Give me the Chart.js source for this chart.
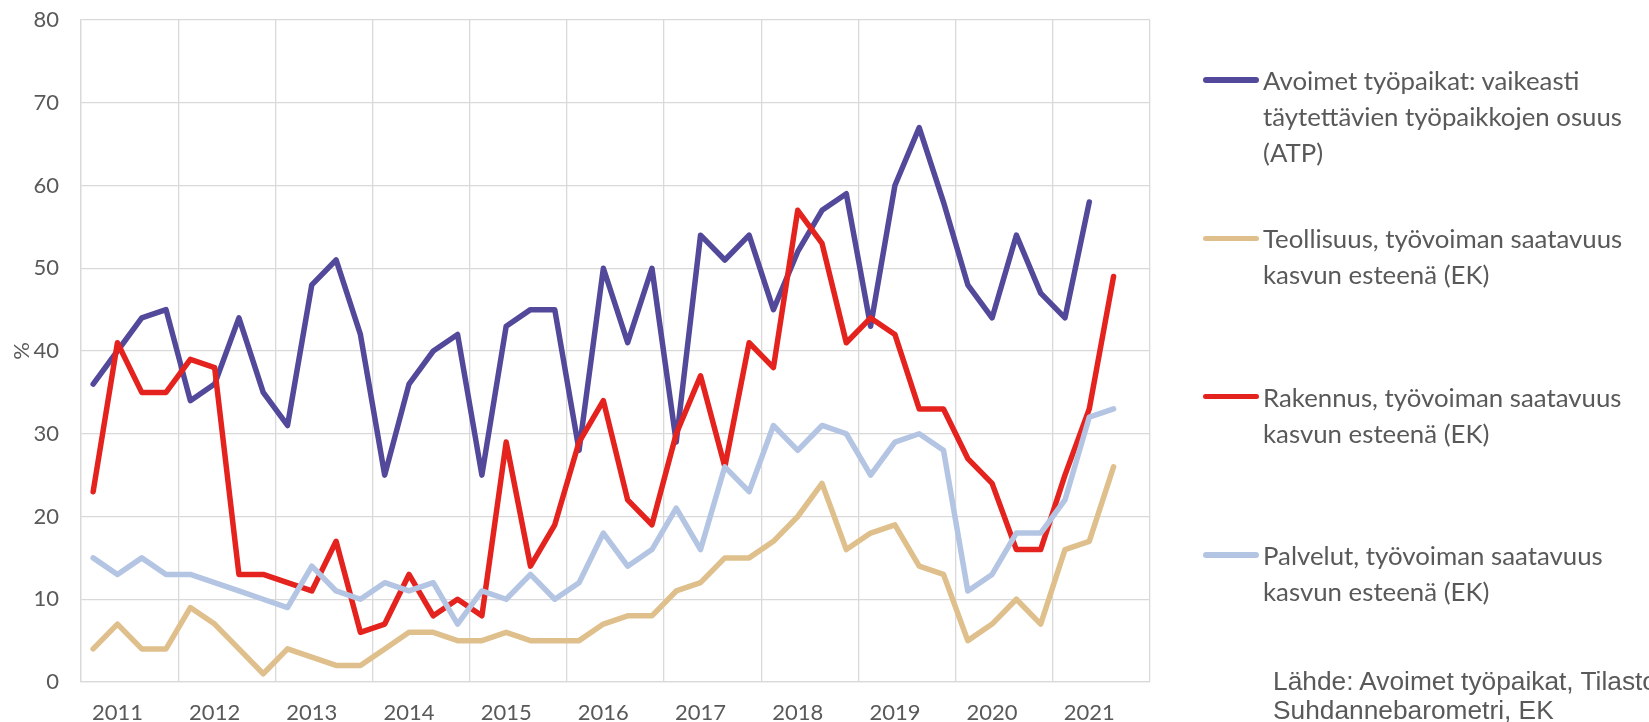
<!DOCTYPE html>
<html lang="fi">
<head>
<meta charset="utf-8">
<title>Työvoiman saatavuus</title>
<script src="https://cdn.jsdelivr.net/npm/chart.js@4.4.1/dist/chart.umd.min.js"></script>
<style>
    html, body { margin: 0; padding: 0; background: #fff; overflow: hidden; }
    #wrap { position: relative; width: 1649px; height: 722px; overflow: hidden; }
    #chart { position: absolute; left: 0; top: 0; }
    #legend {
        position: absolute; left: 1203px; top: 62px; margin: 0; padding: 0; list-style: none;
        font-family: Lato, sans-serif; font-size: 25.8px; line-height: 36px; color: #595959;
    }
    #legend li { position: relative; height: 158.3px; padding-left: 60px; white-space: pre; }
    #legend .swatch { position: absolute; left: 0; top: 15.25px; width: 56px; height: 5.5px; border-radius: 3px; }
    #source {
        position: absolute; left: 1273px; top: 667px; white-space: pre;
        font-family: 'Liberation Sans', Arial, sans-serif; font-size: 26.3px; line-height: 29px; color: #595959;
    }
</style>
</head>
<body>
<div id="wrap">
    <canvas id="chart" width="1649" height="722"></canvas>
    <ul id="legend"></ul>
    <div id="source">Lähde: Avoimet työpaikat, Tilastokeskus;
Suhdannebarometri, EK</div>
</div>
<script>
// quarters, 2010 Q4 ... 2021 Q3 (year label shown at Q1)
const categories = [
    '2010 Q4', '2011 Q1', '2011 Q2', '2011 Q3',
    '2011 Q4', '2012 Q1', '2012 Q2', '2012 Q3',
    '2012 Q4', '2013 Q1', '2013 Q2', '2013 Q3',
    '2013 Q4', '2014 Q1', '2014 Q2', '2014 Q3',
    '2014 Q4', '2015 Q1', '2015 Q2', '2015 Q3',
    '2015 Q4', '2016 Q1', '2016 Q2', '2016 Q3',
    '2016 Q4', '2017 Q1', '2017 Q2', '2017 Q3',
    '2017 Q4', '2018 Q1', '2018 Q2', '2018 Q3',
    '2018 Q4', '2019 Q1', '2019 Q2', '2019 Q3',
    '2019 Q4', '2020 Q1', '2020 Q2', '2020 Q3',
    '2020 Q4', '2021 Q1', '2021 Q2', '2021 Q3',
];

// Avoimet työpaikat (ATP)
const atp = [
    36, 40, 44, 45, 34, 36, 44, 35, 31, 48, 51, 42, 25, 36, 40, 42,
    25, 43, 45, 45, 28, 50, 41, 50, 29, 54, 51, 54, 45, 52, 57, 59,
    43, 60, 67, 58, 48, 44, 54, 47, 44, 58,
];
// Teollisuus (EK)
const teollisuus = [
    4, 7, 4, 4, 9, 7, 4, 1, 4, 3, 2, 2, 4, 6, 6, 5,
    5, 6, 5, 5, 5, 7, 8, 8, 11, 12, 15, 15, 17, 20, 24, 16,
    18, 19, 14, 13, 5, 7, 10, 7, 16, 17, 26,
];
// Rakennus (EK)
const rakennus = [
    23, 41, 35, 35, 39, 38, 13, 13, 12, 11, 17, 6, 7, 13, 8, 10,
    8, 29, 14, 19, 29, 34, 22, 19, 30, 37, 26, 41, 38, 57, 53, 41,
    44, 42, 33, 33, 27, 24, 16, 16, 25, 33, 49,
];
// Palvelut (EK)
const palvelut = [
    15, 13, 15, 13, 13, 12, 11, 10, 9, 14, 11, 10, 12, 11, 12, 7,
    11, 10, 13, 10, 12, 18, 14, 16, 21, 16, 26, 23, 31, 28, 31, 30,
    25, 29, 30, 28, 11, 13, 18, 18, 22, 32, 33,
];

const seriesNames = [
    'Avoimet työpaikat: vaikeasti\ntäytettävien työpaikkojen osuus\n(ATP)',
    'Teollisuus, työvoiman saatavuus\nkasvun esteenä (EK)',
    'Rakennus, työvoiman saatavuus\nkasvun esteenä (EK)',
    'Palvelut, työvoiman saatavuus\nkasvun esteenä (EK)',
];
const seriesColors = ['#53499b', '#dfc08c', '#e5231e', '#b4c5e4'];

const textColor = '#595959';
const gridColor = '#d9d9d9';

Chart.defaults.font.family = 'Lato, sans-serif';
Chart.defaults.color = textColor;

const seriesValues = [atp, teollisuus, rakennus, palvelut];

const chart = new Chart(document.getElementById('chart').getContext('2d'), {
    type: 'line',
    data: {
        labels: categories,
        datasets: seriesValues.map((values, i) => ({
            label: seriesNames[i],
            data: values,
            borderColor: seriesColors[i],
            backgroundColor: seriesColors[i],
            borderWidth: 5.5,
            borderJoinStyle: 'round',
            borderCapStyle: 'round',
            pointRadius: 0,
            tension: 0,
            fill: false,
            order: seriesValues.length - i, // like Excel: later series on top
        })),
    },
    options: {
        responsive: false,
        animation: false,
        devicePixelRatio: 1,
        layout: { padding: { top: 20, right: 499, bottom: 0, left: 0 } },
        plugins: {
            legend: { display: false },
            tooltip: { enabled: false },
        },
        scales: {
            x: {
                offset: true,
                grid: {
                    offset: true,
                    drawTicks: false,
                    lineWidth: 1.3,
                    // a line only between years
                    color: (ctx) => (ctx.type === 'scale' || ctx.index % 4 === 0) ? gridColor : 'rgba(0,0,0,0)',
                },
                border: { color: gridColor, width: 1.3 },
                ticks: {
                    autoSkip: false,
                    maxRotation: 0,
                    minRotation: 0,
                    padding: 18,
                    font: { size: 22 },
                    color: textColor,
                    callback: function (value) {
                        const label = this.getLabelForValue(value);
                        return label.endsWith('Q1') ? label.slice(0, 4) : '';
                    },
                },
                afterFit: (scale) => { scale.height = 40; },
            },
            y: {
                min: 0,
                max: 80,
                ticks: { stepSize: 10, padding: 22, font: { size: 22 }, color: textColor },
                grid: { drawTicks: false, color: gridColor, lineWidth: 1.3 },
                border: { color: gridColor, width: 1.3 },
                title: {
                    display: true,
                    text: '%',
                    font: { size: 22 },
                    color: textColor,
                    padding: { top: 9, bottom: 0 },
                },
                afterFit: (scale) => {
                    scale.width = 81;
                    // tick padding would otherwise push the plot top down
                    scale.paddingTop = 13;
                    scale.paddingBottom = 0;
                },
            },
        },
    },
});

// HTML-legenda datasetien pohjalta
const legendList = document.getElementById('legend');
chart.data.datasets.forEach((ds) => {
    const li = document.createElement('li');
    const swatch = document.createElement('span');
    swatch.className = 'swatch';
    swatch.style.background = ds.borderColor;
    li.appendChild(swatch);
    li.appendChild(document.createTextNode(ds.label));
    legendList.appendChild(li);
});
</script>
</body>
</html>
